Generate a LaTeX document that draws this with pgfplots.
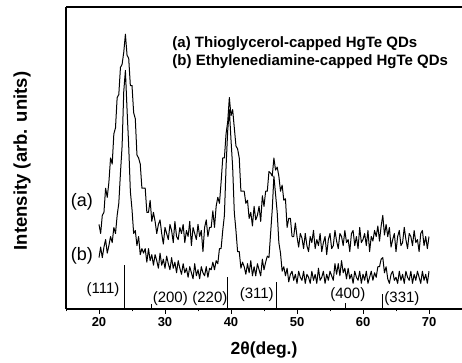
\documentclass[border=0pt]{standalone}
\usepackage{fontspec}
\setmainfont{Liberation Sans}
\usepackage{pgfplots}
\usepackage{pgfplotstable}
\pgfplotsset{compat=1.18}
\pgfplotstableread{
x a b
20.00 28 17
20.25 25 20.5
20.50 31 17
20.75 32 20.5
21.00 40 23
21.25 37 18.5
21.50 42 21
21.75 50 24
22.00 48 22
22.25 58 27
22.50 60 25
22.75 70 31
23.00 71 35
23.25 80 45
23.50 81 54
23.75 85 72
24.00 91 79
24.25 84 66
24.50 83 54
24.75 74 39
25.00 74 33
25.25 65 25
25.50 63 26
25.75 51 21
26.00 50 24
26.25 48 18
26.50 40 20
26.75 40 18.5
27.00 40 20
27.25 32 15.5
27.50 32 20
27.75 36 16
28.00 29 18
28.25 32 14.5
28.50 29 18
28.75 25 16
29.00 28 13.5
29.25 29.5 18.5
29.50 25 14.5
29.75 21.5 16.5
30.00 27 13.5
30.25 25 17.5
30.50 23 15
30.75 28 13
31.00 26 17
31.25 22 13.5
31.50 29 15.5
31.75 24 12
32.00 23 16
32.25 27 13.5
32.50 25 11.5
32.75 28 15
33.00 22 12
33.25 26 13.5
33.50 24 10.5
33.75 29 14
34.00 21 12
34.25 27 10
34.50 25 15
34.75 23 11
35.00 28 13
35.25 24 10
35.50 26 14
35.75 19 12
36.00 27 11
36.25 29.5 14
36.50 24 10.5
36.75 27 13.5
37.00 27 13
37.25 32.5 15.5
37.50 27 13
37.75 34 16
38.00 37 15
38.25 35 20
38.50 42 20
38.75 50 26
39.00 50 31
39.25 58 47
39.50 62 59
39.75 70 66
40.00 64 56
40.25 66 47
40.50 60 32
40.75 54 26
41.00 53 19
41.25 50 19
41.50 39 13.5
41.75 39 15.5
42.00 39 14
42.25 35 11.5
42.50 36 15
42.75 30 12
43.00 32 16
43.25 27.5 11
43.50 34 14
43.75 29.5 11
44.00 31 15
44.25 34 13
44.50 29 11
44.75 37.5 16.5
45.00 34 13
45.25 39 15.5
45.50 39 17.5
45.75 45.5 17
46.00 45 25
46.25 44 33
46.50 50 44
46.75 46 38
47.00 47 32
47.25 44 22
47.50 39 18.5
47.75 41 12.5
48.00 36 14
48.25 36.5 11
48.50 27 13.5
48.75 30 9
49.00 30 11.5
49.25 24 12.5
49.50 24 9.5
49.75 28.5 11.5
50.00 24 8.5
50.25 20.5 12.5
50.50 25 10.5
50.75 23.5 9.5
51.00 20 12.5
51.25 25 8.5
51.50 21 11.5
51.75 19 10.5
52.00 24 8.5
52.25 22 12.5
52.50 26 9.5
52.75 20 11.5
53.00 23 8.5
53.25 21 13.5
53.50 25 9.5
53.75 19 10.5
54.00 22 12.5
54.25 24 8.5
54.50 18 11.5
54.75 23 9.5
55.00 25 12.5
55.25 20 11
55.50 21 9.5
55.75 26 15
56.00 22.5 11.5
56.25 20 15
56.50 25 11
56.75 24 16
57.00 21 12
57.25 26 13.5
57.50 22 10
57.75 23 13.5
58.00 19 10
58.25 25 11.5
58.50 26 8.5
58.75 21 12.5
59.00 24 10.5
59.25 20 9.5
59.50 27 12.5
59.75 22 8.5
60.00 23 11.5
60.25 25 9.5
60.50 21 12.5
60.75 26 8.5
61.00 19 10.5
61.25 24 12.5
61.50 22.5 9.5
61.75 26 12
62.00 24 10.5
62.25 27.5 14
62.50 22.5 14
62.75 27.5 16.5
63.00 31 17
63.25 24.5 12
63.50 28 14
63.75 24 10
64.00 27 8.5
64.25 20.5 11.5
64.50 23 12.5
64.75 25 9.5
65.00 19 10.5
65.25 24 8.5
65.50 26 12.5
65.75 21 9.5
66.00 22 11.5
66.25 27 8.5
66.50 23 12.5
66.75 20 10.5
67.00 25 9.5
67.25 24 12.5
67.50 21 8.5
67.75 26 11.5
68.00 22 9.5
68.25 23 12.5
68.50 19 10.5
68.75 25 8.5
69.00 26 12.5
69.25 21 9.5
69.50 24 11.5
69.75 20 8.5
70.00 24 12.5
}\xrd
\pgfplotstableread{
x h
23.9 14.6
27.9 1.5
39.5 10.6
46.8 9
57.3 2
62.9 5
}\refl
\begin{document}
\begin{tikzpicture}
\begin{axis}[
  at={(66pt,54pt)}, anchor=south west,
  scale only axis, width=396pt, height=302pt,
  xmin=15, xmax=75, ymin=0, ymax=100,
  axis y line*=left,
  axis line style={line width=1.1pt},
  xtick={20,30,...,70}, minor xtick={15,25,...,75},
  xtick pos=bottom, ytick=\empty,
  tick align=outside,
  major tick length=5pt, minor tick length=2.5pt,
  every tick/.style={black, line width=0.9pt},
  /pgf/number format/assume math mode=true,
  ticklabel style={font=\bfseries\fontsize{13}{13}\selectfont},
  xlabel={2θ(deg.)},
  xlabel style={font=\bfseries\fontsize{17.5}{17.5}\selectfont, at={(axis description cs:0.5,-0.135)}, anchor=center},
  ylabel={Intensity (arb. units)},
  ylabel style={font=\bfseries\fontsize{18.5}{18.5}\selectfont, at={(axis description cs:-0.111,0.49)}, anchor=center},
  clip=false,
]
\addplot[black, line width=1.0pt, line join=round] table[x=x, y=a] {\xrd};
\addplot[black, line width=1.0pt, line join=round] table[x=x, y=b] {\xrd};
\addplot[black, line width=0.6pt, ycomb] table[x=x, y=h] {\refl};
\node[font=\fontsize{15}{15}\selectfont] at (axis cs:20.6,6.3) {(111)};
\node[font=\fontsize{15}{15}\selectfont] at (axis cs:30.8,3.6) {(200)};
\node[font=\fontsize{15}{15}\selectfont] at (axis cs:36.8,3.6) {(220)};
\node[font=\fontsize{15}{15}\selectfont] at (axis cs:43.9,4.6) {(311)};
\node[font=\fontsize{15}{15}\selectfont] at (axis cs:57.7,4.6) {(400)};
\node[font=\fontsize{15}{15}\selectfont] at (axis cs:65.9,3.6) {(331)};
\node[font=\fontsize{18}{18}\selectfont] at (axis cs:17.4,35.4) {(a)};
\node[font=\fontsize{18}{18}\selectfont] at (axis cs:17.4,17.5) {(b)};
\node[anchor=west, font=\bfseries\fontsize{15}{15}\selectfont, inner sep=0pt] at (axis cs:31.1,88) {(a) Thioglycerol-capped HgTe QDs};
\node[anchor=west, font=\bfseries\fontsize{15}{15}\selectfont, inner sep=0pt] at (axis cs:31.1,81.8) {(b) Ethylenediamine-capped HgTe QDs};
\end{axis}
\pgfresetboundingbox
\path[use as bounding box] (0,0) rectangle (462pt,363pt);
\end{tikzpicture}
\end{document}
